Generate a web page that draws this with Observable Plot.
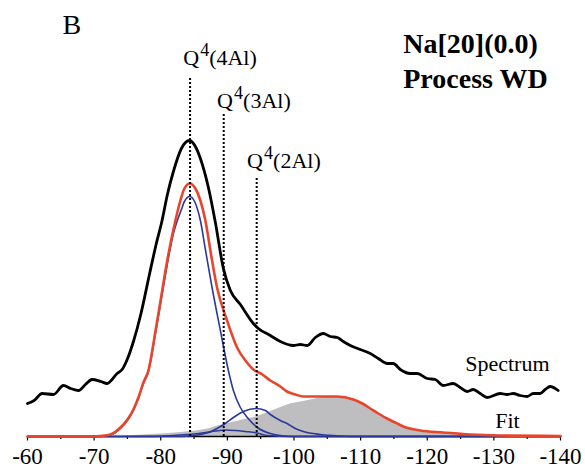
<!DOCTYPE html>
<html><head><meta charset="utf-8">
<script src="https://cdn.jsdelivr.net/npm/d3@7"></script>
<script src="https://cdn.jsdelivr.net/npm/@observablehq/plot@0.6"></script>
<style>
body{margin:0;background:#fff}
svg{display:block}
</style>
</head><body><div id="chart"></div>
<script>
// 29Si NMR chemical shift (ppm) vs intensity (arbitrary units)
const spectrum = [[-60,33],[-61,36],[-62.2,43],[-63.9,42],[-65.4,51],[-66.5,48],[-67.65,46],[-68.7,52],[-69.7,57],[-71,55],[-71.95,53],[-73.45,63],[-74.2,67],[-74.9,76],[-75.9,95],[-77.0,122],[-78.3,162],[-79.3,192],[-80.2,216],[-81.0,242],[-81.9,265],[-83.1,288],[-84.3,296],[-85.2,290],[-85.95,278],[-87.15,249],[-88.2,214],[-89.4,168],[-90.45,146],[-91.95,132],[-93.9,113],[-94.65,108],[-96.45,101],[-97.95,95],[-99.9,91],[-100.95,92],[-102,91],[-103.2,99],[-104.4,103],[-105.45,100],[-106.5,99],[-107.4,95],[-108.45,91],[-109.95,87],[-111.45,83],[-112.65,78],[-114,73],[-114.9,73],[-115.95,67],[-117.45,63],[-118.5,63],[-120,58],[-121.2,57],[-122.4,51],[-123.9,53],[-124.95,49],[-126,45],[-126.9,47],[-127.95,43],[-129,39],[-130.95,43],[-132,42],[-132.9,43],[-133.95,41],[-135,40],[-135.9,43],[-136.95,43],[-137.7,47],[-138.45,50],[-139.65,46]];
const fit = [[-60,0],[-70,0],[-70.95,0.5],[-72.45,2],[-73.95,9],[-75.0,17],[-75.9,27],[-76.7,40],[-77.4,54],[-78.15,66],[-79.2,105],[-79.95,135],[-80.95,175],[-82.2,216],[-82.95,236],[-83.55,248],[-84.35,253],[-85.2,248],[-85.95,236],[-86.7,216],[-87.6,180],[-88.45,149],[-89.95,116],[-91.45,89],[-92.7,76],[-93.9,67],[-95.25,62],[-96.45,56],[-97.95,50],[-98.95,45],[-100.2,42],[-101.4,40],[-103.95,40],[-106.45,40],[-108.9,37],[-110.25,33],[-111.45,28],[-112.65,23],[-113.95,18],[-115.2,14],[-116.4,10],[-118.95,6],[-122.4,4],[-126.45,2],[-130.95,1],[-140,0.5]];
const q4Al = [[-60,0],[-70,0],[-72.45,1.5],[-73.95,8],[-75.0,16],[-75.9,26],[-76.7,39],[-77.4,53],[-78.15,65],[-79.2,103],[-79.95,132],[-80.95,171],[-81.9,203],[-82.65,219],[-83.1,227],[-83.55,235],[-84.35,240],[-85.15,234],[-85.95,216],[-86.7,187],[-87.7,149],[-88.95,106],[-90.15,66],[-90.9,46],[-91.95,29],[-93,19],[-94.5,9],[-96.45,3],[-97.95,1],[-100,0],[-140,0]];
const q3Al = [[-60,0],[-78,0],[-79.95,0.3],[-82.95,1.5],[-84.9,2.5],[-86.7,4],[-88.2,5.5],[-89.7,6.5],[-91.2,6],[-92.7,5],[-94.5,3.5],[-96,1],[-97.95,0.3],[-100,0],[-140,0]];
const q2Al = [[-60,0],[-82,0],[-84.45,0.5],[-85.95,2],[-87.2,4],[-88.45,8],[-89.7,13],[-90.9,19],[-92.4,25],[-94.3,28],[-95.7,26],[-96.45,22],[-97.95,16],[-98.95,13],[-100.2,8],[-101.4,5],[-103.95,2],[-106.95,0.5],[-109.95,0],[-140,0]];
const broad = [[-73.5,0],[-76,1],[-80,2.5],[-84.5,5],[-86.7,7],[-89.4,12],[-92,16],[-94.5,20],[-96.5,25],[-98,29],[-99,31.5],[-101.4,35],[-103.5,38],[-105,39.5],[-106.5,40],[-108,39],[-109,36],[-110.2,32],[-111.5,27],[-112.7,22],[-114,17],[-115.2,13],[-116.4,10],[-118,7],[-119.5,5],[-122,3],[-125,1.5],[-128,0.5],[-131,0]];

const peakNames = ["4Al", "3Al", "2Al"];
const peakPpm = [-84.4, -89.45, -94.4];
const peakTop = [358, 323, 258];
const peakLabelX = [-83.36, -88.46, -92.96];
const peakLabelY = [372, 329, 269];

const majorTicks = [-60, -70, -80, -90, -100, -110, -120, -130, -140];
const minorTicks = [-65, -75, -85, -95, -105, -115, -125, -135];

const titleLines = ["Na[20](0.0)", "Process WD"];
const titleY = [384, 349];

const peaks = peakNames.map((n, i) => ({name: n, ppm: peakPpm[i], top: peakTop[i], lx: peakLabelX[i], ly: peakLabelY[i]}));
const titles = titleLines.map((t, i) => ({t, y: titleY[i]}));

const blue = "#2b3a98";
const red = "#e8452c";
const X = d => d[0], Y = d => d[1];
const font = "Liberation Serif, Times New Roman, serif";
const curve = "monotone-x";

const chart = Plot.plot({
  width: 585, height: 468,
  marginLeft: 27, marginRight: 25, marginTop: 0, marginBottom: 32,
  style: {fontFamily: font, fontSize: "22px", background: "#fff", color: "#000"},
  x: {domain: [-60, -140], axis: null},
  y: {domain: [0, 436], axis: null},
  marks: [
    Plot.areaY(broad, {x: X, y: Y, fill: "#bebdbf", curve}),
    Plot.ruleY([0], {stroke: "#000", strokeWidth: 1.5}),
    Plot.ruleX(majorTicks, {x: d => d, y1: 0, y2: -4.5, stroke: "#000", strokeWidth: 1.2}),
    Plot.ruleX(minorTicks, {x: d => d, y1: 0, y2: -3, stroke: "#000", strokeWidth: 1.2}),
    Plot.text(majorTicks, {x: d => d, y: 0, dy: 11.5, text: d => String(d), lineAnchor: "top", fontSize: 23}),
    Plot.lineY(q3Al, {x: X, y: Y, stroke: blue, strokeWidth: 1.6, curve}),
    Plot.lineY(q2Al, {x: X, y: Y, stroke: blue, strokeWidth: 1.6, curve}),
    Plot.lineY(q4Al, {x: X, y: Y, stroke: blue, strokeWidth: 1.6, curve}),
    Plot.lineY(fit, {x: X, y: Y, stroke: red, strokeWidth: 2.6, curve}),
    Plot.lineY(spectrum, {x: X, y: Y, stroke: "#000", strokeWidth: 2.8, curve}),
    Plot.ruleX(peaks, {x: "ppm", y1: 0, y2: "top", stroke: "#000", strokeWidth: 2, strokeDasharray: "2,2"}),
    Plot.text(peaks, {x: "lx", y: "ly", text: () => "Q", textAnchor: "start", lineAnchor: "bottom", fontSize: 22}),
    Plot.text(peaks, {x: "lx", y: "ly", text: () => "4", textAnchor: "start", lineAnchor: "bottom", fontSize: 18, dx: 17, dy: -9}),
    Plot.text(peaks, {x: "lx", y: "ly", text: d => "(" + d.name + ")", textAnchor: "start", lineAnchor: "bottom", fontSize: 22, dx: 26}),
    Plot.text(titles, {x: -116.4, y: "y", text: "t", textAnchor: "start", lineAnchor: "bottom", fontSize: 28, fontWeight: "bold"}),
    Plot.text(["B"], {x: -65.25, y: 403, text: d => d, textAnchor: "start", lineAnchor: "bottom", fontSize: 28}),
    Plot.text(["Spectrum"], {x: -125.7, y: 66, text: d => d, textAnchor: "start", lineAnchor: "bottom", fontSize: 22}),
    Plot.text(["Fit"], {x: -130.2, y: 9, text: d => d, textAnchor: "start", lineAnchor: "bottom", fontSize: 22})
  ]
});
document.getElementById("chart").appendChild(chart);
</script>
</body></html>
